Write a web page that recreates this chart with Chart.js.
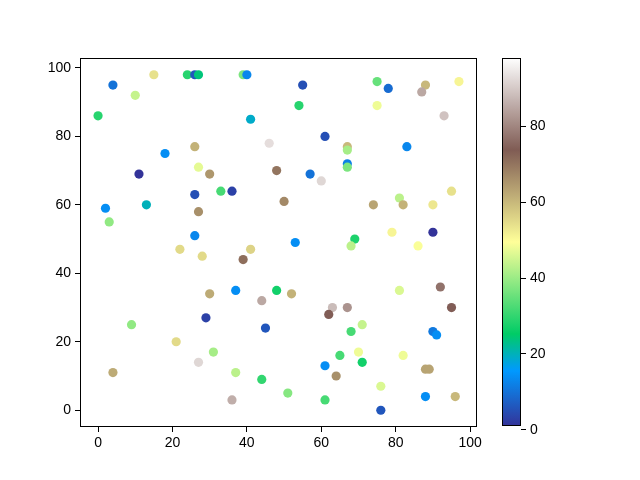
<!DOCTYPE html>
<html>
<head>
<meta charset="utf-8">
<script src="https://cdn.jsdelivr.net/npm/chart.js@4.4.1/dist/chart.umd.min.js"></script>
<style>
  body { margin: 0; background: #fff; }
  #wrap { position: relative; width: 640px; height: 480px; }
  canvas { position: absolute; left: 0; top: 0; }
</style>
</head>
<body>
<div id="wrap">
  <canvas id="scatter" width="640" height="480"></canvas>
  <canvas id="cbar" width="640" height="480"></canvas>
</div>
<script>
// scatter data: x, y and colour value
const xValues = [4, 15, 10, 24, 26, 27, 39, 40, 0, 18, 26, 27, 30, 11, 26, 33, 36, 13, 2, 3,
  27, 26, 22, 28, 30, 41, 55, 54, 61, 46, 67, 67, 67, 67, 48, 50, 57, 60, 75, 78,
  75, 88, 87, 97, 93, 83, 74, 81, 82, 95, 90, 90, 79, 86, 64, 69, 68, 53, 41, 39,
  29, 9, 4, 21, 27, 31, 37, 44, 45, 48, 52, 37, 36, 44, 51, 61, 61, 63, 62, 67,
  68, 65, 71, 70, 71, 64, 76, 76, 82, 81, 88, 89, 88, 90, 91, 92, 95, 96];
const yValues = [95, 98, 92, 98, 98, 98, 98, 98, 86, 75, 77, 71, 69, 69, 63, 64, 64, 60, 59, 55,
  58, 51, 47, 45, 34, 85, 95, 89, 80, 78, 77, 76, 72, 71, 70, 61, 69, 67, 96, 94,
  89, 95, 93, 96, 86, 77, 60, 62, 60, 64, 60, 52, 52, 48, 53, 50, 48, 49, 47, 44,
  27, 25, 11, 20, 14, 17, 35, 32, 24, 35, 34, 11, 3, 9, 5, 3, 13, 30, 28, 30,
  23, 16, 25, 17, 14, 10, 7, 0, 16, 35, 12, 12, 4, 23, 22, 36, 30, 4];
const cValues = [10, 54, 44, 29, 6, 24, 37, 13, 29, 14, 61, 47, 65, 1, 5, 32, 3, 20, 14, 39,
  66, 13, 55, 55, 62, 19, 5, 29, 5, 93, 60, 41, 12, 37, 70, 67, 10, 92, 35, 9,
  48, 60, 85, 51, 89, 13, 63, 43, 61, 54, 53, 1, 51, 49, 98, 28, 43, 14, 56, 71,
  3, 39, 62, 55, 92, 41, 14, 85, 6, 27, 61, 43, 86, 30, 38, 32, 14, 88, 74, 82,
  32, 32, 44, 48, 27, 66, 46, 6, 48, 46, 63, 63, 14, 11, 14, 77, 74, 60];
const tickValues = [0, 20, 40, 60, 80, 100];
const cbarTicks = [0, 20, 40, 60, 80];

// matplotlib "terrain" colormap
const terrainStops = [
  [0.00, [0.2, 0.2, 0.6]],
  [0.15, [0.0, 0.6, 1.0]],
  [0.25, [0.0, 0.8, 0.4]],
  [0.50, [1.0, 1.0, 0.6]],
  [0.75, [0.5, 0.36, 0.33]],
  [1.00, [1.0, 1.0, 1.0]]
];
function terrain(t) {
  t = Math.max(0, Math.min(1, t));
  for (let i = 1; i < terrainStops.length; i++) {
    const [t1, c1] = terrainStops[i];
    const [t0, c0] = terrainStops[i - 1];
    if (t <= t1) {
      const f = (t - t0) / (t1 - t0);
      const rgb = c0.map((v, k) => Math.round(255 * (v + (c1[k] - v) * f)));
      return "rgb(" + rgb.join(",") + ")";
    }
  }
  return "rgb(255,255,255)";
}

const cMin = Math.min(...cValues);
const cMax = Math.max(...cValues);
const pointColors = cValues.map(c => terrain((c - cMin) / (cMax - cMin)));

function pad(arr) {
  const lo = Math.min(...arr), hi = Math.max(...arr);
  const m = (hi - lo) * 0.05;
  return [lo - m, hi + m];
}
const [xMin, xMax] = pad(xValues);
const [yMin, yMax] = pad(yValues);

const font = { family: "Liberation Sans", size: 14 };

// axes frame like matplotlib spines
const frame = {
  id: "frame",
  afterDraw(chart) {
    const a = chart.chartArea;
    const ctx = chart.ctx;
    ctx.save();
    ctx.strokeStyle = "#000";
    ctx.lineWidth = 1;
    ctx.strokeRect(Math.round(a.left) + 0.5, Math.round(a.top) + 0.5,
      Math.round(a.right - a.left) - 1, Math.round(a.bottom - a.top) - 1);
    ctx.restore();
  }
};

const tickGrid = {
  display: true, drawOnChartArea: false, drawTicks: true,
  tickLength: 5, color: "#000", lineWidth: 1
};

new Chart(document.getElementById("scatter"), {
  type: "scatter",
  data: {
    datasets: [{
      data: xValues.map((x, i) => ({ x: x, y: yValues[i] })),
      backgroundColor: pointColors,
      borderWidth: 0,
      pointRadius: 4.6,
      pointHoverRadius: 4.6
    }]
  },
  options: {
    responsive: false,
    animation: false,
    devicePixelRatio: 1,
    layout: { padding: { left: 0, top: 58, right: 163, bottom: 0 } },
    plugins: { legend: { display: false }, tooltip: { enabled: false } },
    scales: {
      x: {
        type: "linear", min: xMin, max: xMax,
        grid: tickGrid, border: { display: false },
        ticks: { color: "#000", font: font, padding: 3, maxRotation: 0 },
        afterBuildTicks: s => { s.ticks = tickValues.map(v => ({ value: v })); },
        afterFit: s => { s.height = 53; }
      },
      y: {
        type: "linear", min: yMin, max: yMax,
        grid: tickGrid, border: { display: false },
        ticks: { color: "#000", font: font, padding: 4 },
        afterBuildTicks: s => { s.ticks = tickValues.map(v => ({ value: v })); },
        afterFit: s => { s.width = 80; }
      }
    }
  },
  plugins: [frame]
});

// colorbar
new Chart(document.getElementById("cbar"), {
  type: "bar",
  data: {
    labels: ["c"],
    datasets: [{
      data: [[cMin, cMax]],
      borderWidth: 0,
      barPercentage: 1,
      categoryPercentage: 1,
      backgroundColor: ctx => {
        const area = ctx.chart.chartArea;
        if (!area) return "#888";
        const g = ctx.chart.ctx.createLinearGradient(0, area.bottom, 0, area.top);
        for (let i = 0; i <= 40; i++) g.addColorStop(i / 40, terrain(i / 40));
        return g;
      }
    }]
  },
  options: {
    responsive: false,
    animation: false,
    devicePixelRatio: 1,
    layout: { padding: { left: 502, top: 58, right: 89, bottom: 54 } },
    plugins: { legend: { display: false }, tooltip: { enabled: false } },
    scales: {
      x: { display: false },
      y: {
        position: "right", min: cMin, max: cMax,
        grid: tickGrid, border: { display: false },
        ticks: { color: "#000", font: font, padding: 4 },
        afterBuildTicks: s => { s.ticks = cbarTicks.map(v => ({ value: v })); },
        afterFit: s => { s.width = 30; }
      }
    }
  },
  plugins: [frame]
});
</script>
</body>
</html>
